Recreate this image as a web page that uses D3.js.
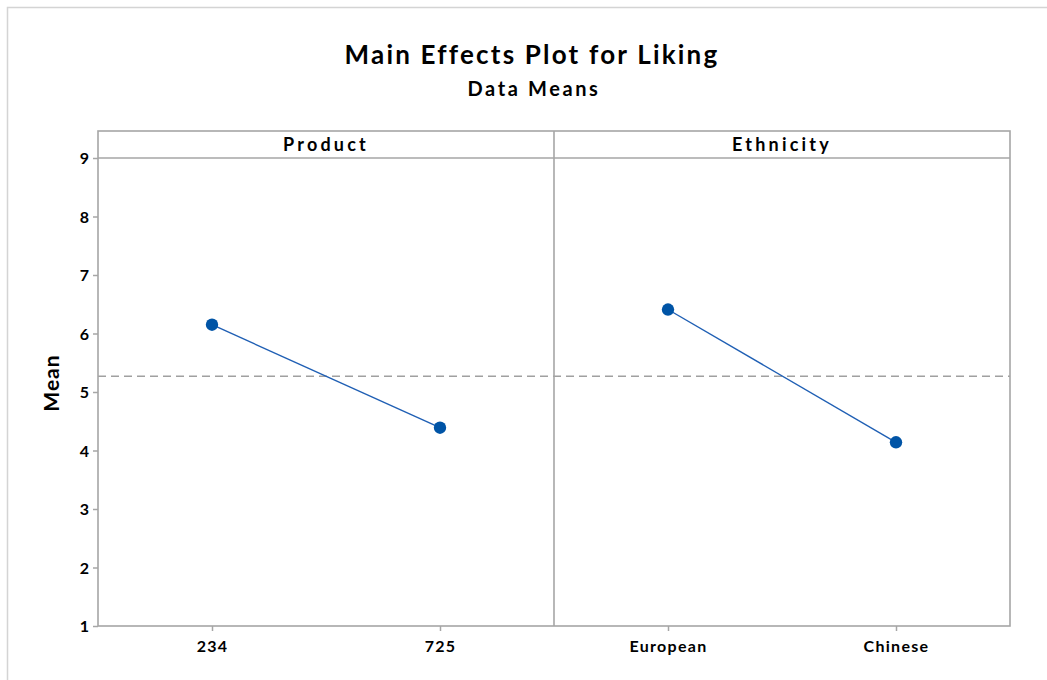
<!DOCTYPE html>
<html>
<head>
<meta charset="utf-8">
<script src="https://cdn.jsdelivr.net/npm/d3@7"></script>
<style>
  html, body { margin: 0; padding: 0; background: #fff; }
  svg { display: block; }
  text { font-family: Lato, "Open Sans", sans-serif; font-weight: bold; fill: #000; }
</style>
</head>
<body>
<svg id="chart" width="1047" height="680"></svg>
<script>
// Factors and their level means
const factorNames = ["Product", "Ethnicity"];
const productLevels = ["234", "725"];
const productMeans = [6.15, 4.39];
const ethnicityLevels = ["European", "Chinese"];
const ethnicityMeans = [6.41, 4.14];
const grandMean = 5.27;
const yTicks = [1, 2, 3, 4, 5, 6, 7, 8, 9];

const panels = [
  { name: factorNames[0], levels: productLevels, means: productMeans },
  { name: factorNames[1], levels: ethnicityLevels, means: ethnicityMeans }
];

const W = 1047, H = 680;
const frame = { left: 98, right: 1010, top: 131, header: 158, bottom: 626 };
const panelW = (frame.right - frame.left) / panels.length;
const frameColor = "#a6a6a6";
const markColor = "#0054a6";
const lineColor = "#1f5fb4";

const svg = d3.select("#chart");

// outer graph region border
svg.append("path")
  .attr("d", `M7.5,${H} V7.5 H${W}`)
  .attr("fill", "none")
  .attr("stroke", "#d4d4d4")
  .attr("stroke-width", 1.5);

// titles
svg.append("text").attr("x", 532).attr("y", 64)
  .attr("text-anchor", "middle").attr("font-size", 26).style("letter-spacing", "2.2px")
  .text("Main Effects Plot for Liking");
svg.append("text").attr("x", 534).attr("y", 96)
  .attr("text-anchor", "middle").attr("font-size", 20).style("letter-spacing", "2.6px")
  .text("Data Means");

const y = d3.scaleLinear().domain([1, 9]).range([frame.bottom, frame.header]);

// y axis
const yAxis = svg.append("g")
  .attr("transform", `translate(${frame.left},0)`)
  .call(d3.axisLeft(y).tickValues(yTicks).tickSize(5).tickPadding(4).tickFormat(d3.format("d")));
yAxis.select(".domain").remove();
yAxis.selectAll("line").attr("stroke", frameColor).attr("stroke-width", 1.5);
yAxis.selectAll("text").attr("font-size", 16).attr("dy", "0.36em")
  .style("font-family", "Lato, sans-serif").style("font-weight", "bold");

svg.append("text")
  .attr("transform", `translate(59,383) rotate(-90)`)
  .attr("text-anchor", "middle").attr("font-size", 21).style("letter-spacing", "1px")
  .text("Mean");

// grand mean reference line
svg.append("line")
  .attr("x1", frame.left).attr("x2", frame.right)
  .attr("y1", y(grandMean)).attr("y2", y(grandMean))
  .attr("stroke", "#a0a0a0").attr("stroke-width", 1.5)
  .attr("stroke-dasharray", "8,5");

panels.forEach((p, i) => {
  const x0 = frame.left + i * panelW;
  const x = d3.scalePoint().domain(p.levels).range([x0, x0 + panelW]).padding(0.5);
  const g = svg.append("g");

  // header label
  g.append("text")
    .attr("x", x0 + panelW / 2).attr("y", frame.header - 7)
    .attr("text-anchor", "middle").attr("font-size", 18)
    .style("letter-spacing", "3.2px")
    .text(p.name);

  // x axis
  const xAxis = g.append("g")
    .attr("transform", `translate(0,${frame.bottom})`)
    .call(d3.axisBottom(x).tickSize(5).tickPadding(10));
  xAxis.select(".domain").remove();
  xAxis.selectAll("line").attr("stroke", frameColor).attr("stroke-width", 1.5);
  xAxis.selectAll("text").attr("font-size", 16)
    .style("font-family", "Lato, sans-serif").style("font-weight", "bold")
    .style("letter-spacing", "1.3px");

  const pts = p.levels.map((l, k) => [x(l), y(p.means[k])]);
  g.append("path")
    .attr("d", d3.line()(pts))
    .attr("fill", "none")
    .attr("stroke", lineColor)
    .attr("stroke-width", 1.4);
  g.selectAll("circle").data(pts).join("circle")
    .attr("cx", d => d[0]).attr("cy", d => d[1]).attr("r", 6.2)
    .attr("fill", markColor);
});

// panel frames
const fg = svg.append("g").attr("fill", "none").attr("stroke", frameColor).attr("stroke-width", 1.6);
fg.append("rect")
  .attr("x", frame.left).attr("y", frame.top)
  .attr("width", frame.right - frame.left).attr("height", frame.bottom - frame.top);
fg.append("line")
  .attr("x1", frame.left).attr("x2", frame.right)
  .attr("y1", frame.header).attr("y2", frame.header);
for (let i = 1; i < panels.length; i++) {
  fg.append("line")
    .attr("x1", frame.left + i * panelW).attr("x2", frame.left + i * panelW)
    .attr("y1", frame.top).attr("y2", frame.bottom);
}
</script>
</body>
</html>
